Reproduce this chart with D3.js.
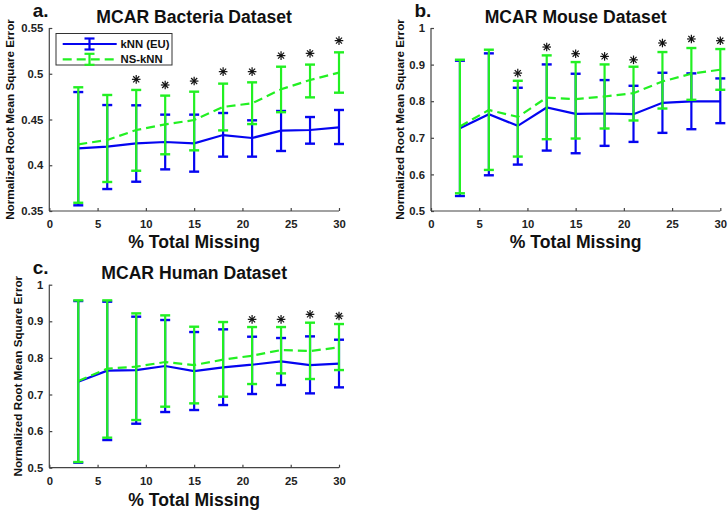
<!DOCTYPE html>
<html><head><meta charset="utf-8">
<script src="https://cdn.jsdelivr.net/npm/d3@7"></script>
<style>
html,body{margin:0;padding:0;background:#fff;}
svg{display:block;font-family:"Liberation Sans",Arial,Helvetica,sans-serif;}
</style></head>
<body>
<svg id="chart" width="728" height="515"></svg>
<script>
// ---------- data ----------
const missing = [3, 6, 9, 12, 15, 18, 21, 24, 27, 30];
const xTicks = [0, 5, 10, 15, 20, 25, 30];
const seriesNames = ["kNN (EU)", "NS-kNN"];

// Panel a: Bacteria
const knnA   = [0.4185, 0.4203, 0.4240, 0.4254, 0.4240, 0.4330, 0.4298, 0.4378, 0.4385, 0.4414];
const knnAHi = [0.4800, 0.4658, 0.4655, 0.4553, 0.4553, 0.4571, 0.4491, 0.4593, 0.4527, 0.4604];
const knnALo = [0.3562, 0.3740, 0.3820, 0.3955, 0.3930, 0.4094, 0.4094, 0.4156, 0.4236, 0.4232];
const nsA    = [0.4229, 0.4276, 0.4385, 0.4447, 0.4494, 0.4637, 0.4677, 0.4830, 0.4932, 0.5012];
const nsAHi  = [0.4852, 0.4768, 0.4823, 0.4761, 0.4804, 0.4892, 0.4906, 0.5077, 0.5100, 0.5234];
const nsALo  = [0.3590, 0.3817, 0.3940, 0.4120, 0.4163, 0.4381, 0.4450, 0.4580, 0.4742, 0.4793];
const starA  = [null, null, 0.4939, 0.4877, 0.4920, 0.5023, 0.5023, 0.5198, 0.5223, 0.5362];
const yTicksA = [0.35, 0.4, 0.45, 0.5, 0.55];

// Panel b: Mouse
const knnB   = [0.7263, 0.7646, 0.7326, 0.7828, 0.7655, 0.7664, 0.7646, 0.7956, 0.7993, 0.7993];
const knnBHi = [0.9106, 0.9307, 0.8367, 0.9005, 0.8750, 0.8577, 0.8421, 0.8777, 0.8760, 0.8622];
const knnBLo = [0.5410, 0.5976, 0.6268, 0.6651, 0.6578, 0.6780, 0.6888, 0.7135, 0.7235, 0.7400];
const nsB    = [0.7308, 0.7760, 0.7570, 0.8100, 0.8056, 0.8129, 0.8220, 0.8540, 0.8750, 0.8860];
const nsBHi  = [0.9133, 0.9407, 0.8558, 0.9252, 0.9069, 0.9005, 0.8942, 0.9343, 0.9453, 0.9425];
const nsBLo  = [0.5484, 0.6122, 0.6487, 0.6962, 0.6980, 0.7254, 0.7473, 0.7800, 0.8038, 0.8312];
const starB  = [null, null, 0.8768, 0.9480, 0.9297, 0.9224, 0.9130, 0.9590, 0.9700, 0.9653];
const yTicksB = [0.5, 0.6, 0.7, 0.8, 0.9, 1];

// Panel c: Human
const knnC   = [0.7350, 0.7650, 0.7668, 0.7778, 0.7641, 0.7741, 0.7814, 0.7905, 0.7805, 0.7842];
const knnCHi = [0.9554, 0.9536, 0.9126, 0.9035, 0.8707, 0.8780, 0.8579, 0.8543, 0.8588, 0.8497];
const knnCLo = [0.5137, 0.5756, 0.6202, 0.6521, 0.6576, 0.6712, 0.7013, 0.7259, 0.7031, 0.7195];
const nsC    = [0.7368, 0.7705, 0.7760, 0.7887, 0.7805, 0.7951, 0.8060, 0.8215, 0.8188, 0.8288];
const nsCHi  = [0.9572, 0.9572, 0.9217, 0.9162, 0.8852, 0.8980, 0.8843, 0.8843, 0.8962, 0.8925];
const nsCLo  = [0.5155, 0.5820, 0.6302, 0.6667, 0.6758, 0.6940, 0.7286, 0.7577, 0.7423, 0.7668];
const starC  = [null, null, null, null, null, null, 0.9053, 0.9053, 0.9190, 0.9144];
const yTicksC = [0.5, 0.6, 0.7, 0.8, 0.9, 1];

// ---------- drawing ----------
const BLUE = "#0505f0", GREEN = "#22f022", AXIS = "#444";
const svg = d3.select("#chart");

const panels = [
  {label:"a.", title:"MCAR Bacteria Dataset", L:49.3, R:339, T:28, B:211, yLabX:10,
   dom:[0.35,0.55], ticks:yTicksA, k:knnA, kHi:knnAHi, kLo:knnALo, n:nsA, nHi:nsAHi, nLo:nsALo, star:starA, legend:true},
  {label:"b.", title:"MCAR Mouse Dataset", L:431, R:720.3, T:28, B:211, yLabX:400,
   dom:[0.5,1], ticks:yTicksB, k:knnB, kHi:knnBHi, kLo:knnBLo, n:nsB, nHi:nsBHi, nLo:nsBLo, star:starB},
  {label:"c.", title:"MCAR Human Dataset", L:49.3, R:339, T:284.7, B:467.7, yLabX:18,
   dom:[0.5,1], ticks:yTicksC, k:knnC, kHi:knnCHi, kLo:knnCLo, n:nsC, nHi:nsCHi, nLo:nsCLo, star:starC, xLabY:506}
];

function fmt(v){ return String(+v.toFixed(2)); }

panels.forEach(p => {
  const x = d3.scaleLinear().domain([0,30]).range([p.L, p.R]);
  const y = d3.scaleLinear().domain(p.dom).range([p.B, p.T]);
  const g = svg.append("g");

  // axes
  const xAx = d3.axisBottom(x).tickValues(xTicks).tickSize(-3).tickPadding(9).tickFormat(d3.format("d"));
  const yAx = d3.axisLeft(y).tickValues(p.ticks).tickSize(-3).tickPadding(6).tickFormat(fmt);
  const gx = g.append("g").attr("transform", `translate(0,${p.B})`).call(xAx);
  const gy = g.append("g").attr("transform", `translate(${p.L},0)`).call(yAx);
  [gx, gy].forEach(a => {
    a.select(".domain").attr("stroke", AXIS).attr("stroke-width", 1.2);
    a.selectAll(".tick line").attr("stroke", AXIS).attr("stroke-width", 1.2);
    a.selectAll(".tick text").attr("fill", "#222").attr("font-size", 11.3).attr("font-weight", "bold")
      .attr("font-family", "Liberation Sans, Arial, sans-serif");
  });
  gx.select(".domain").attr("d", `M${p.L},0H${p.R}`);
  gy.select(".domain").attr("d", `M0,${p.B}V${p.T}`);

  // series
  function drawSeries(mean, hi, lo, color, dashed) {
    const sg = g.append("g");
    missing.forEach((m, i) => {
      const cx = x(m);
      sg.append("line").attr("x1", cx).attr("x2", cx).attr("y1", y(hi[i])).attr("y2", y(lo[i]))
        .attr("stroke", color).attr("stroke-width", 2.2);
      [hi[i], lo[i]].forEach(v => {
        sg.append("line").attr("x1", cx - 5).attr("x2", cx + 5).attr("y1", y(v)).attr("y2", y(v))
          .attr("stroke", color).attr("stroke-width", 2.4);
      });
    });
    const line = d3.line().x((d, i) => x(missing[i])).y(d => y(d));
    sg.append("path").datum(mean).attr("d", line).attr("fill", "none")
      .attr("stroke", color).attr("stroke-width", 2.2)
      .attr("stroke-dasharray", dashed ? "9,5" : null);
  }
  drawSeries(p.k, p.kHi, p.kLo, BLUE, false);
  drawSeries(p.n, p.nHi, p.nLo, GREEN, true);

  // significance asterisks
  const sgA = g.append("g");
  missing.forEach((m, i) => {
    if (p.star[i] == null) return;
    const cx = x(m), cy = y(p.star[i]), r = 4.3;
    for (let a = 0; a < 4; a++) {
      const ang = a * Math.PI / 4;
      sgA.append("line")
        .attr("x1", cx - r * Math.cos(ang)).attr("y1", cy - r * Math.sin(ang))
        .attr("x2", cx + r * Math.cos(ang)).attr("y2", cy + r * Math.sin(ang))
        .attr("stroke", "#111").attr("stroke-width", 1.2);
    }
    sgA.append("circle").attr("cx", cx).attr("cy", cy).attr("r", 1.3).attr("fill", "#111");
  });

  // titles and labels
  const cxMid = (p.L + p.R) / 2;
  g.append("text").attr("x", cxMid).attr("y", p.T - 5.5).attr("text-anchor", "middle")
    .attr("font-size", 17.6).attr("font-weight", "bold").attr("fill", "#111").text(p.title);
  g.append("text").attr("x", p.L - 16.5).attr("y", p.T - 10.7)
    .attr("font-size", 19).attr("font-weight", "bold").attr("fill", "#111").text(p.label);
  g.append("text").attr("x", cxMid).attr("y", p.xLabY || (p.B + 36.6)).attr("text-anchor", "middle")
    .attr("font-size", 17.6).attr("font-weight", "bold").attr("fill", "#111").text("% Total Missing");
  g.append("text").attr("transform", `translate(${p.yLabX + 4},${(p.T + p.B) / 2}) rotate(-90)`)
    .attr("text-anchor", "middle").attr("font-size", 11.7).attr("font-weight", "bold").attr("fill", "#111")
    .text("Normalized Root Mean Square Error");

  // legend
  if (p.legend) {
    const lg = g.append("g");
    lg.append("rect").attr("x", 56).attr("y", 33.5).attr("width", 116).attr("height", 31.5)
      .attr("fill", "#fff").attr("stroke", "#333").attr("stroke-width", 1);
    const rows = [{c: BLUE, d: false, yy: 44}, {c: GREEN, d: true, yy: 59.3}];
    rows.forEach((r, i) => {
      lg.append("line").attr("x1", 62.7).attr("x2", 116.7).attr("y1", r.yy).attr("y2", r.yy)
        .attr("stroke", r.c).attr("stroke-width", 2.2).attr("stroke-dasharray", r.d ? "9,5" : null);
      lg.append("line").attr("x1", 89.5).attr("x2", 89.5).attr("y1", r.yy - 5.5).attr("y2", r.yy + 5.5)
        .attr("stroke", r.c).attr("stroke-width", 2.2);
      [r.yy - 5.5, r.yy + 5.5].forEach(v => lg.append("line").attr("x1", 84.5).attr("x2", 94.5)
        .attr("y1", v).attr("y2", v).attr("stroke", r.c).attr("stroke-width", 2.2));
      lg.append("text").attr("x", 120.5).attr("y", r.yy + 4).attr("font-size", 11.3)
        .attr("font-weight", "bold").attr("fill", "#111").text(seriesNames[i]);
    });
  }
});
</script>
</body></html>
